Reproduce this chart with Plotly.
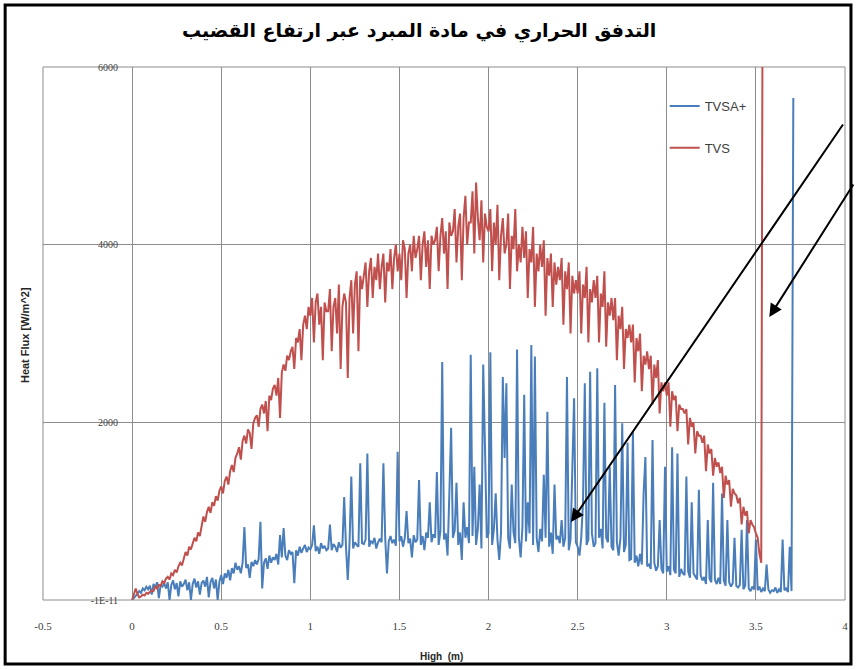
import numpy as np
import plotly.graph_objects as go

# ---------------- data ----------------
x_step = 0.01  # sample spacing of the height grid (m)

# TVS (red) heat flux, x = 0.00 .. 3.53 every 0.01 m
tvs_flux = [
    0, 60, 130, 70, 30, 40, 60, 50, 80, 70,
    90, 110, 100, 150, 130, 170, 160, 210, 190, 240,
    260, 230, 300, 280, 340, 310, 380, 420, 390, 470,
    540, 500, 600, 570, 650, 700, 660, 760, 720, 850,
    940, 880, 990, 1050, 980, 1100, 1060, 1170, 1120, 1230,
    1280, 1200, 1340, 1390, 1300, 1450, 1520, 1440, 1600, 1650,
    1720, 1580, 1790, 1850, 1760, 1920, 1880, 1700, 1990, 2050,
    2080, 1950, 2150, 2200, 2100, 2240, 1900, 2300, 2250, 2380,
    2420, 2300, 2500, 2050, 2560, 2650, 2580, 2750, 2700, 2800,
    2850, 2600, 2950, 2900, 3050, 2700, 3100, 3200, 3050, 3300,
    3200, 3400, 2900, 3350, 3450, 3100, 3300, 2700, 3350, 3250,
    3250, 3500, 2800, 3300, 3400, 3000, 3550, 2600, 3300, 3450,
    3350, 2500, 3400, 3600, 3000, 3550, 3700, 2800, 3650, 3500,
    3650, 3800, 3300, 3700, 3850, 3400, 3750, 3600, 3900, 3500,
    3750, 3900, 3350, 3800, 3700, 3950, 3500, 3850, 4000, 3700,
    3900, 3600, 4050, 3950, 3400, 3900, 4000, 3700, 4100, 3850,
    3950, 4100, 3600, 4000, 4150, 3750, 4050, 3500, 4100, 4000,
    4050, 4200, 3700, 4100, 4300, 3900, 4150, 3500, 4250, 4100,
    4150, 4400, 3800, 4200, 4350, 3600, 4300, 4550, 4000, 4250,
    4250, 4600, 3900, 4700, 4300, 4050, 4500, 3800, 4350, 4200,
    4150, 4400, 3700, 4250, 4000, 4450, 3600, 4100, 4300, 3900,
    4000, 4350, 3500, 4100, 3950, 4400, 3700, 4000, 3800, 4200,
    3850, 4150, 3400, 3950, 3800, 4200, 3300, 3900, 3700, 4000,
    3750, 4050, 3200, 3850, 3650, 3900, 3300, 3800, 3550, 3750,
    3600, 3850, 3100, 3700, 3500, 3800, 3000, 3650, 3450, 3600,
    3450, 3700, 3000, 3550, 3400, 3750, 2900, 3500, 3350, 3600,
    3400, 3650, 2900, 3450, 3300, 3700, 2850, 3350, 3200, 3400,
    3150, 3400, 2700, 3200, 3050, 3300, 2600, 3050, 2950, 3100,
    2900, 3100, 2450, 2950, 2800, 3000, 2350, 2750, 2650, 2800,
    2600, 2750, 2200, 2650, 2500, 2700, 2100, 2450, 2350, 2450,
    2300, 2450, 1950, 2350, 2250, 2300, 1900, 2200, 2150, 2150,
    2100, 2150, 1750, 2050, 1950, 2000, 1650, 1900, 1850, 1850,
    1770, 1850, 1450, 1750, 1650, 1700, 1400, 1600, 1500, 1550,
    1430, 1500, 1150, 1400, 1300, 1350, 1050, 1250, 1200, 1180,
    1090, 1150, 850, 1050, 950, 1000, 750, 900, 850, 820,
    750, 700, 520, 420,
]
tvs_end_x = 3.54       # final sample of TVS (off-scale jump)
tvs_end_flux = 9000

# TVSA+ (blue) heat flux, x = 0.00 .. 3.70 every 0.01 m
tvsa_flux = [
    0, 20, 40, 70, 100, 80, 130, 110, 150, 120,
    160, 60, 180, 140, 200, 20, 170, 150, 190, 130,
    200, 0, 170, 220, 120, 190, 40, 210, 150, 180,
    230, 110, 200, 0, 180, 240, 140, 210, 60, 190,
    220, 150, 260, 30, 200, 250, 130, 230, 0, 210,
    280, 180, 300, 250, 340, 220, 360, 300, 420, 340,
    380, 300, 420, 820, 360, 400, 250, 430, 380, 450,
    400, 460, 880, 130, 420, 470, 350, 500, 420, 480,
    450, 520, 400, 730, 480, 810, 500, 450, 560, 520,
    540, 190, 560, 500, 600, 530, 580, 620, 540, 590,
    570, 620, 840, 550, 600, 520, 640, 580, 610, 560,
    580, 850, 560, 630, 600, 540, 650, 590, 620, 1160,
    600, 225, 640, 1390, 580, 650, 620, 600, 1540, 640,
    630, 680, 1650, 600, 660, 640, 700, 580, 650, 690,
    650, 1540, 700, 300, 660, 720, 640, 680, 610, 1670,
    660, 720, 600, 700, 1000, 640, 690, 480, 730, 650,
    680, 1350, 620, 720, 560, 760, 700, 1100, 650, 740,
    700, 1440, 620, 780, 2680, 680, 750, 500, 1200, 1940,
    700, 780, 1320, 620, 760, 450, 1100, 700, 820, 640,
    2760, 720, 1500, 620, 800, 1300, 580, 2650, 1720, 700,
    750, 2790, 620, 800, 1200, 680, 450, 760, 2510, 1600,
    2440, 700, 580, 1300, 760, 640, 2820, 700, 480, 820,
    2310, 660, 1100, 750, 2870, 620, 2740, 700, 540, 800,
    660, 1410, 700, 2120, 600, 760, 520, 1300, 680, 720,
    640, 900, 600, 700, 2510, 560, 680, 1500, 2270, 650,
    600, 500, 700, 1100, 2440, 620, 680, 2570, 750, 600,
    640, 2610, 700, 800, 580, 2220, 700, 650, 1500, 600,
    560, 2420, 650, 500, 700, 1990, 540, 620, 1770, 450,
    460, 1900, 420, 500, 380, 520, 400, 1200, 1610, 380,
    400, 350, 1800, 420, 330, 380, 900, 350, 300, 1500,
    320, 380, 280, 1720, 340, 300, 1650, 260, 350, 300,
    280, 1390, 320, 250, 1100, 300, 260, 230, 1240, 280,
    220, 260, 180, 900, 240, 200, 1320, 230, 180, 250,
    180, 1200, 220, 160, 900, 200, 150, 190, 700, 160,
    140, 170, 790, 120, 160, 900, 130, 100, 150, 120,
    680, 110, 150, 90, 130, 100, 400, 120, 80, 110,
    100, 140, 80, 120, 90, 680, 110, 130, 90, 600,
    100,
]
tvsa_end_x = 3.71      # final spike of TVSA+
tvsa_end_flux = 5650

x_tick_vals = [-0.5, 0, 0.5, 1, 1.5, 2, 2.5, 3, 3.5, 4]
x_tick_text = ["-0.5", "0", "0.5", "1", "1.5", "2", "2.5", "3", "3.5", "4"]
y_tick_vals = [0, 2000, 4000, 6000]
y_tick_text = ["-1E-11", "2000", "4000", "6000"]

title_text = "التدفق الحراري في مادة المبرد عبر ارتفاع القضيب"

# ---------------- build series ----------------
tvs_x = list(np.round(np.arange(len(tvs_flux)) * x_step, 2)) + [tvs_end_x]
tvs_y = tvs_flux + [tvs_end_flux]
tvsa_x = list(np.round(np.arange(len(tvsa_flux)) * x_step, 2)) + [tvsa_end_x]
tvsa_y = tvsa_flux + [tvsa_end_flux]

BLUE = "#4a7ebb"
RED = "#c0504d"
GRID = "#8c8c8c"

fig = go.Figure()
fig.add_trace(go.Scatter(x=tvsa_x, y=tvsa_y, mode="lines", name="TVSA+",
                         legendgroup="a", line=dict(color=BLUE, width=2)))
fig.add_trace(go.Scatter(x=tvs_x, y=tvs_y, mode="lines", name="TVS",
                         legendgroup="b", line=dict(color=RED, width=2)))

# plot-area geometry in pixels (used for paper conversions)
L, R, T, B = 43, 848, 67, 600
W, H = R - L, B - T
def px(xp):
    return (xp - L) / W
def py(yp):
    return (B - yp) / H

fig.update_layout(
    width=858, height=670,
    margin=dict(l=L, r=858 - R, t=T, b=670 - B, pad=0),
    paper_bgcolor="white", plot_bgcolor="white",
    showlegend=True,
    legend=dict(x=px(667), y=py(91), xanchor="left", yanchor="top",
                bgcolor="rgba(0,0,0,0)", tracegroupgap=22,
                font=dict(family="Liberation Sans", size=13, color="#404040"),
                itemwidth=30),
    xaxis=dict(range=[-0.5, 4], tickvals=x_tick_vals, ticktext=x_tick_text,
               showgrid=True, gridcolor=GRID, gridwidth=1, zeroline=False,
               showline=False, ticks="outside", ticklen=16,
               tickcolor="rgba(0,0,0,0)",
               tickfont=dict(family="Liberation Serif", size=11, color="#404040")),
    yaxis=dict(range=[0, 6000], tickvals=y_tick_vals, ticktext=y_tick_text,
               showgrid=True, gridcolor=GRID, gridwidth=1, zeroline=False,
               showline=False, anchor="free", position=0.5 / 4.5,
               ticks="outside", ticklen=12, tickcolor="rgba(0,0,0,0)",
               tickfont=dict(family="Liberation Serif", size=10, color="#404040")),
)

shapes = [
    # plot-area frame (gray)
    dict(type="rect", xref="paper", yref="paper", x0=0, y0=0, x1=1, y1=1,
         line=dict(color=GRID, width=1), layer="below"),
    # outer black frame
    dict(type="rect", xref="paper", yref="paper",
         x0=px(5), x1=px(854), y0=py(664), y1=py(5),
         line=dict(color="black", width=3)),
]
fig.update_layout(shapes=shapes)

annotations = [
    dict(text="<b>" + title_text + "</b>", xref="paper", yref="paper",
         x=px(420), y=py(31), xanchor="center", yanchor="middle",
         showarrow=False, font=dict(family="DejaVu Sans", size=19, color="black")),
    dict(text="<b>Heat Flux [W/m^2]</b>", xref="paper", yref="paper",
         x=px(25), y=py(335), xanchor="center", yanchor="middle", textangle=-90,
         showarrow=False, font=dict(family="Liberation Sans", size=11, color="#262626")),
    dict(text="<b>High  (m)</b>", xref="paper", yref="paper",
         x=px(443), y=py(656), xanchor="center", yanchor="middle",
         showarrow=False, font=dict(family="Liberation Sans", size=10, color="#262626")),
    # arrows
    dict(text="", xref="paper", yref="paper", x=px(573), y=py(522),
         ax=846 - 573, ay=123 - 522, axref="pixel", ayref="pixel",
         showarrow=True, arrowhead=2, arrowsize=1.3, arrowwidth=2,
         arrowcolor="black", standoff=0),
    dict(text="", xref="paper", yref="paper", x=px(772), y=py(317),
         ax=857 - 772, ay=183 - 317, axref="pixel", ayref="pixel",
         showarrow=True, arrowhead=2, arrowsize=1.3, arrowwidth=2,
         arrowcolor="black", standoff=0),
]
fig.update_layout(annotations=annotations)

fig.write_html("out.html")
